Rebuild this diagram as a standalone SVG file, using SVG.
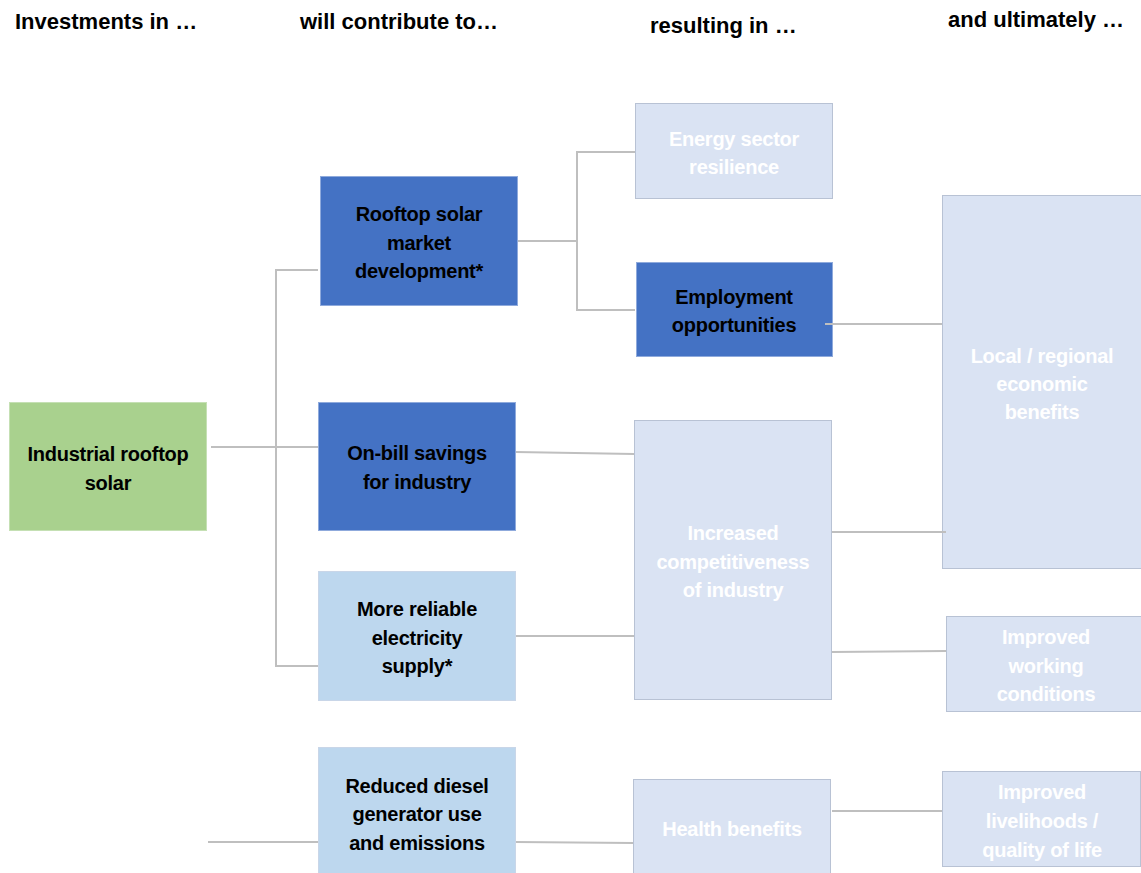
<svg xmlns="http://www.w3.org/2000/svg" width="1141" height="873" viewBox="0 0 1141 873">
  <style>
    .hdr { font-family: "Liberation Sans", Arial, sans-serif; font-weight: bold; font-size: 22px; fill: #000; }
    .lbl { font-family: "Liberation Sans", Arial, sans-serif; font-weight: bold; font-size: 20px; letter-spacing: -0.25px; text-anchor: middle; }
    .dark { fill: #000; }
    .pale { fill: #FFFFFF; }
    .green { fill: #A9D18E; stroke: #C5E0B4; stroke-width: 1; }
    .blue { fill: #4472C4; stroke: #8FAADC; stroke-width: 1; }
    .sky { fill: #BDD7EE; stroke: #C9D6E8; stroke-width: 1; }
    .mist { fill: #DAE3F3; stroke: #B8C2D4; stroke-width: 1; }
    .wire { fill: none; stroke: #BFBFBF; stroke-width: 2; }
  </style>

  <!-- column headings -->
  <g id="headings">
    <text class="hdr" x="15" y="29">Investments in …</text>
    <text class="hdr" x="300" y="29">will contribute to…</text>
    <text class="hdr" x="650" y="33">resulting in …</text>
    <text class="hdr" x="948" y="27">and ultimately …</text>
  </g>

  <g id="industrial-rooftop-solar">
    <rect class="green" x="9.5" y="402.5" width="197" height="128"/>
    <text class="lbl dark" x="108" y="461">Industrial rooftop</text>
    <text class="lbl dark" x="108" y="490">solar</text>
  </g>

  <g id="rooftop-market">
    <rect class="blue" x="320.5" y="176.5" width="197" height="129"/>
    <text class="lbl dark" x="419" y="221">Rooftop solar</text>
    <text class="lbl dark" x="419" y="250">market</text>
    <text class="lbl dark" x="419" y="278">development*</text>
  </g>

  <g id="on-bill-savings">
    <rect class="blue" x="318.5" y="402.5" width="197" height="128"/>
    <text class="lbl dark" x="417" y="460">On-bill savings</text>
    <text class="lbl dark" x="417" y="489">for industry</text>
  </g>

  <g id="reliable-supply">
    <rect class="sky" x="318.5" y="571.5" width="197" height="129"/>
    <text class="lbl dark" x="417" y="616">More reliable</text>
    <text class="lbl dark" x="417" y="645">electricity</text>
    <text class="lbl dark" x="417" y="673">supply*</text>
  </g>

  <g id="reduced-diesel">
    <rect class="sky" x="318.5" y="747.5" width="197" height="130"/>
    <text class="lbl dark" x="417" y="793">Reduced diesel</text>
    <text class="lbl dark" x="417" y="821">generator use</text>
    <text class="lbl dark" x="417" y="850">and emissions</text>
  </g>

  <g id="energy-resilience">
    <rect class="mist" x="635.5" y="103.5" width="197" height="95"/>
    <text class="lbl pale" x="734" y="146">Energy sector</text>
    <text class="lbl pale" x="734" y="174">resilience</text>
  </g>

  <g id="employment">
    <rect class="blue" x="636.5" y="262.5" width="196" height="94"/>
    <text class="lbl dark" x="734" y="304">Employment</text>
    <text class="lbl dark" x="734" y="332">opportunities</text>
  </g>

  <g id="competitiveness">
    <rect class="mist" x="634.5" y="420.5" width="197" height="279"/>
    <text class="lbl pale" x="733" y="540">Increased</text>
    <text class="lbl pale" x="733" y="569">competitiveness</text>
    <text class="lbl pale" x="733" y="597">of industry</text>
  </g>

  <g id="health-benefits">
    <rect class="mist" x="633.5" y="779.5" width="197" height="98"/>
    <text class="lbl pale" x="732" y="836">Health benefits</text>
  </g>

  <g id="local-economic-benefits">
    <rect class="mist" x="942.5" y="195.5" width="199" height="373"/>
    <text class="lbl pale" x="1042" y="363">Local / regional</text>
    <text class="lbl pale" x="1042" y="391">economic</text>
    <text class="lbl pale" x="1042" y="419">benefits</text>
  </g>

  <g id="working-conditions">
    <rect class="mist" x="946.5" y="616.5" width="195" height="95"/>
    <text class="lbl pale" x="1046" y="644">Improved</text>
    <text class="lbl pale" x="1046" y="673">working</text>
    <text class="lbl pale" x="1046" y="701">conditions</text>
  </g>

  <g id="livelihoods">
    <rect class="mist" x="942.5" y="771.5" width="198" height="95"/>
    <text class="lbl pale" x="1042" y="799">Improved</text>
    <text class="lbl pale" x="1042" y="828">livelihoods /</text>
    <text class="lbl pale" x="1042" y="857">quality of life</text>
  </g>

  <!-- connectors, drawn over the box edges -->
  <g id="connectors">
    <path class="wire" d="M211 447 H318"/>
    <path class="wire" d="M318 270 H276 V666 H318"/>
    <path class="wire" d="M518 241 H577"/>
    <path class="wire" d="M635 152 H577 V310 H635"/>
    <path class="wire" d="M825 324 H942"/>
    <path class="wire" d="M516 452 L634 454"/>
    <path class="wire" d="M516 636 H634"/>
    <path class="wire" d="M832 532 H946"/>
    <path class="wire" d="M832 652 L946 651"/>
    <path class="wire" d="M208 842 H318"/>
    <path class="wire" d="M516 842 L633 843"/>
    <path class="wire" d="M832 811 H942"/>
  </g>
</svg>
